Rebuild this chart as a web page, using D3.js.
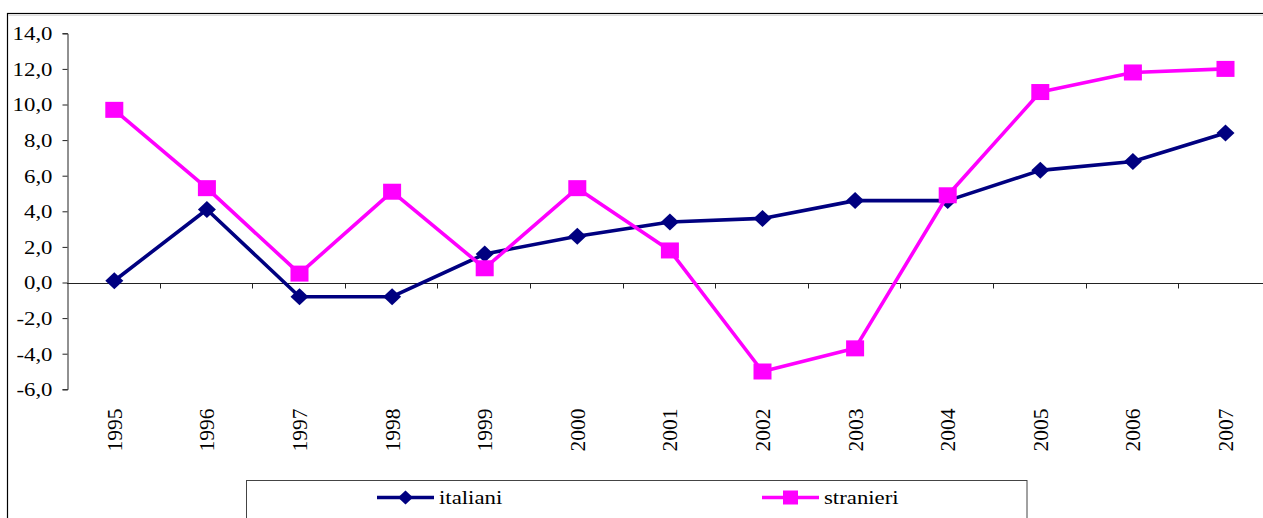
<!DOCTYPE html>
<html>
<head>
  <meta charset="utf-8">
  <title>italiani e stranieri</title>
  <script src="https://d3js.org/d3.v7.min.js"></script>
  <style>
    body { margin: 0; background: #fff; }
  </style>
</head>
<body>
  <script>
    // data
    var years = ['1995','1996','1997','1998','1999','2000','2001','2002','2003','2004','2005','2006','2007'];
    var italiani  = [0.1, 4.1, -0.8, -0.8, 1.6, 2.6, 3.4, 3.6, 4.6, 4.6, 6.3, 6.8, 8.4];
    var stranieri = [9.7, 5.3, 0.5, 5.1, 0.8, 5.3, 1.8, -5.0, -3.7, 4.9, 10.7, 11.8, 12.0];
    var yTicks = [-6, -4, -2, 0, 2, 4, 6, 8, 10, 12, 14];

    var width = 1263, height = 518;
    var serif = "'Liberation Serif'";

    var svg = d3.select('body').append('svg')
        .attr('width', width)
        .attr('height', height);

    // outer chart frame
    svg.append('rect')
        .attr('x', 7.5).attr('y', 13.5)
        .attr('width', width).attr('height', height)
        .attr('fill', 'none').attr('stroke', '#000').attr('stroke-width', 1.2);
    svg.append('line')
        .attr('x1', 8).attr('x2', width).attr('y1', 15.5).attr('y2', 15.5)
        .attr('stroke', '#ddd');

    // scales
    var x = d3.scaleBand().domain(years).range([68, 68 + 13 * 92.6]);
    var y = d3.scaleLinear().domain([-6, 14]).range([389.3, 33.3]);
    var cx = function (d) { return x(d) + x.bandwidth() / 2; };

    // y axis
    var yAxis = svg.append('g')
        .attr('transform', 'translate(67.5,0)')
        .call(d3.axisLeft(y).tickValues(yTicks).tickSize(5)
          .tickFormat(function (d) { return d.toFixed(1).replace('.', ','); }));
    yAxis.attr('font-family', serif).attr('font-size', 19);
    yAxis.selectAll('path, line').attr('stroke', '#222');
    yAxis.selectAll('text')
        .attr('x', 0)
        .attr('dy', '0.34em')
        .attr('transform', 'translate(-15,0) scale(1.2,1)')
        .style('font-family', serif)
        .style('font-size', '19px');

    // x axis at zero, ticks on category boundaries
    var xAxis = svg.append('g')
        .attr('transform', 'translate(0,' + (Math.round(y(0)) + 0.5) + ')')
        .call(d3.axisBottom(x).tickSize(0).tickSizeOuter(0));
    xAxis.attr('font-family', serif).attr('font-size', 21.5);
    xAxis.select('.domain').attr('stroke', '#222')
        .attr('d', 'M67,0H' + width);
    xAxis.selectAll('text')
        .attr('x', 0).attr('y', 0)
        .attr('dy', '0.35em')
        .attr('text-anchor', 'end')
        .attr('transform', 'translate(0,' + (408 - Math.round(y(0))) + ') rotate(-90)')
        .style('font-family', serif)
        .style('font-size', '21.5px');
    xAxis.selectAll('.bound')
        .data(d3.range(1, 14))
        .enter().append('line')
        .attr('class', 'bound')
        .attr('x1', function (k) { return Math.round(67 + k * x.step()) + 0.5; })
        .attr('x2', function (k) { return Math.round(67 + k * x.step()) + 0.5; })
        .attr('y1', 0).attr('y2', 5)
        .attr('stroke', '#222');

    var series = [
      { name: 'italiani', values: italiani, color: '#000080', shape: 'diamond' },
      { name: 'stranieri', values: stranieri, color: '#FF00FF', shape: 'square' }
    ];

    var line = d3.line()
        .x(function (d, i) { return cx(years[i]); })
        .y(function (d) { return y(d); });

    function marker(g, shape, color, w, h) {
      if (shape === 'diamond') {
        g.append('path')
          .attr('d', 'M0,' + (-h / 2) + 'L' + (w / 2) + ',0L0,' + (h / 2) + 'L' + (-w / 2) + ',0Z')
          .attr('fill', color);
      } else {
        g.append('rect')
          .attr('x', -w / 2).attr('y', -h / 2)
          .attr('width', w).attr('height', h)
          .attr('fill', color);
      }
    }

    series.forEach(function (s) {
      var g = svg.append('g');
      g.append('path')
          .datum(s.values)
          .attr('fill', 'none')
          .attr('stroke', s.color)
          .attr('stroke-width', 3.6)
          .attr('stroke-linejoin', 'round')
          .attr('d', line);
      g.selectAll('.pt')
          .data(s.values)
          .enter().append('g')
          .attr('class', 'pt')
          .attr('transform', function (d, i) { return 'translate(' + cx(years[i]) + ',' + y(d) + ')'; })
          .each(function () {
            if (s.shape === 'diamond') marker(d3.select(this), 'diamond', s.color, 18, 17);
            else marker(d3.select(this), 'square', s.color, 18, 16);
          });
    });

    // legend
    var legend = svg.append('g');
    legend.append('rect')
        .attr('x', 246.5).attr('y', 480.5)
        .attr('width', 1027 - 246.5).attr('height', 60)
        .attr('fill', '#fff').attr('stroke', '#444').attr('stroke-width', 1);

    var legendPos = [{ x1: 377, x2: 434, tx: 439 }, { x1: 762, x2: 819, tx: 824 }];
    series.forEach(function (s, i) {
      var p = legendPos[i];
      var ly = 497.5;
      legend.append('line')
          .attr('x1', p.x1).attr('x2', p.x2)
          .attr('y1', ly).attr('y2', ly)
          .attr('stroke', s.color).attr('stroke-width', 3.6);
      var m = legend.append('g')
          .attr('transform', 'translate(' + ((p.x1 + p.x2) / 2) + ',' + ly + ')');
      if (s.shape === 'diamond') marker(m, 'diamond', s.color, 15, 14);
      else marker(m, 'square', s.color, 15, 14);
      legend.append('text')
          .attr('transform', 'translate(' + p.tx + ',' + (ly + 6.5) + ') scale(1.2,1)')
          .style('font-family', serif)
          .style('font-size', '19px')
          .text(s.name);
    });
  </script>
</body>
</html>
